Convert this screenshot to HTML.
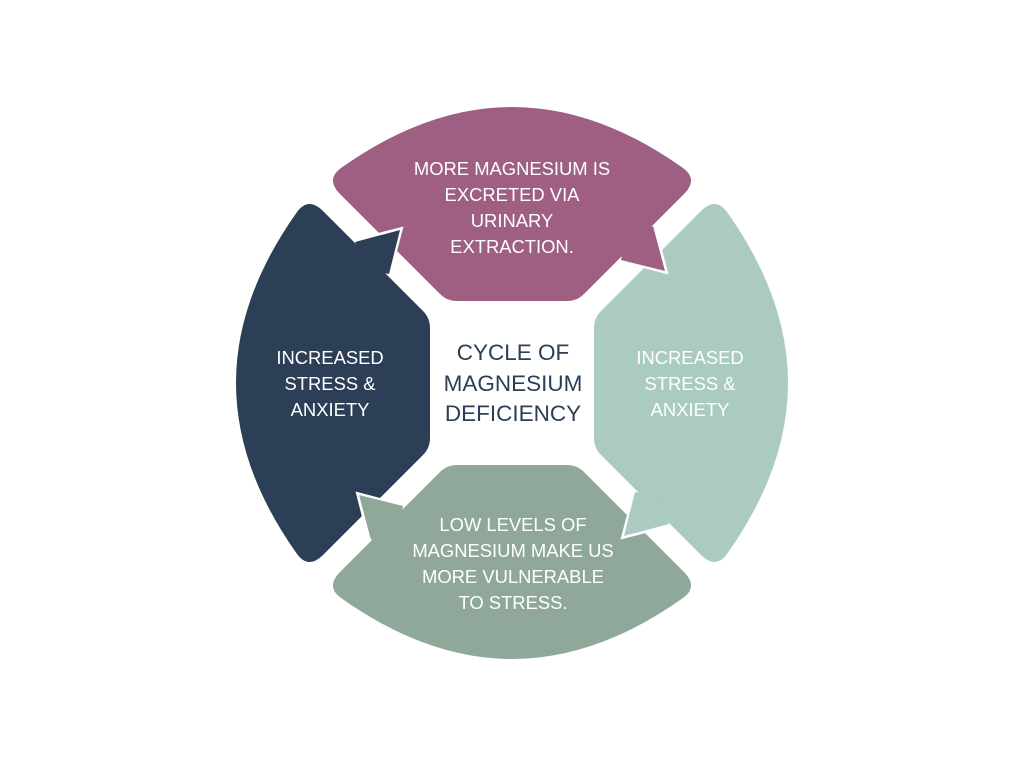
<!DOCTYPE html>
<html><head><style>
html,body{margin:0;padding:0;background:#fff;}
svg{display:block;}
text{font-family:"Liberation Sans",sans-serif;}
</style></head><body>
<svg width="1024" height="768" viewBox="0 0 1024 768">
<defs>
<path id="body" d="M430,328 L430,438 Q430,448 423,455 L322,556 Q308,569 297,554 Q236,468 236,383 Q236,298 297,212 Q308,197 322,210 L423,311 Q430,318 430,328Z"/>
<polyline id="tl" points="357,241 400,230 389,272" fill="none" stroke="#fff" stroke-width="5" stroke-linejoin="miter"/>
<polygon id="tf" points="355,242 400,230 389,274 370,270"/>
</defs>
<use href="#body" fill="#2c3f56"/>
<use href="#body" fill="#9e5f82" transform="rotate(90 512 383)"/>
<use href="#body" fill="#abcac2" transform="rotate(180 512 383)"/>
<use href="#body" fill="#8fa89a" transform="rotate(270 512 383)"/>
<g><use href="#tl"/><use href="#tf" fill="#2c3f56"/></g>
<g transform="rotate(90 512 383)"><use href="#tl"/><use href="#tf" fill="#9e5f82"/></g>
<g transform="rotate(180 512 383)"><use href="#tl"/><use href="#tf" fill="#abcac2"/></g>
<g transform="rotate(270 512 383)"><use href="#tl"/><use href="#tf" fill="#8fa89a"/></g>
<g fill="#fff" font-size="18.4" text-anchor="middle">
<text x="512" y="175">MORE MAGNESIUM IS</text>
<text x="512" y="201">EXCRETED VIA</text>
<text x="512" y="227">URINARY</text>
<text x="512" y="253">EXTRACTION.</text>
<text x="330" y="364">INCREASED</text>
<text x="330" y="390">STRESS &amp;</text>
<text x="330" y="416">ANXIETY</text>
<text x="690" y="364">INCREASED</text>
<text x="690" y="390">STRESS &amp;</text>
<text x="690" y="416">ANXIETY</text>
<text x="513" y="531">LOW LEVELS OF</text>
<text x="513" y="557">MAGNESIUM MAKE US</text>
<text x="513" y="583">MORE VULNERABLE</text>
<text x="513" y="609">TO STRESS.</text>
</g>
<g fill="#2c3f56" font-size="22.5" text-anchor="middle">
<text x="513" y="360">CYCLE OF</text>
<text x="513" y="391">MAGNESIUM</text>
<text x="513" y="421">DEFICIENCY</text>
</g>
</svg>
</body></html>
